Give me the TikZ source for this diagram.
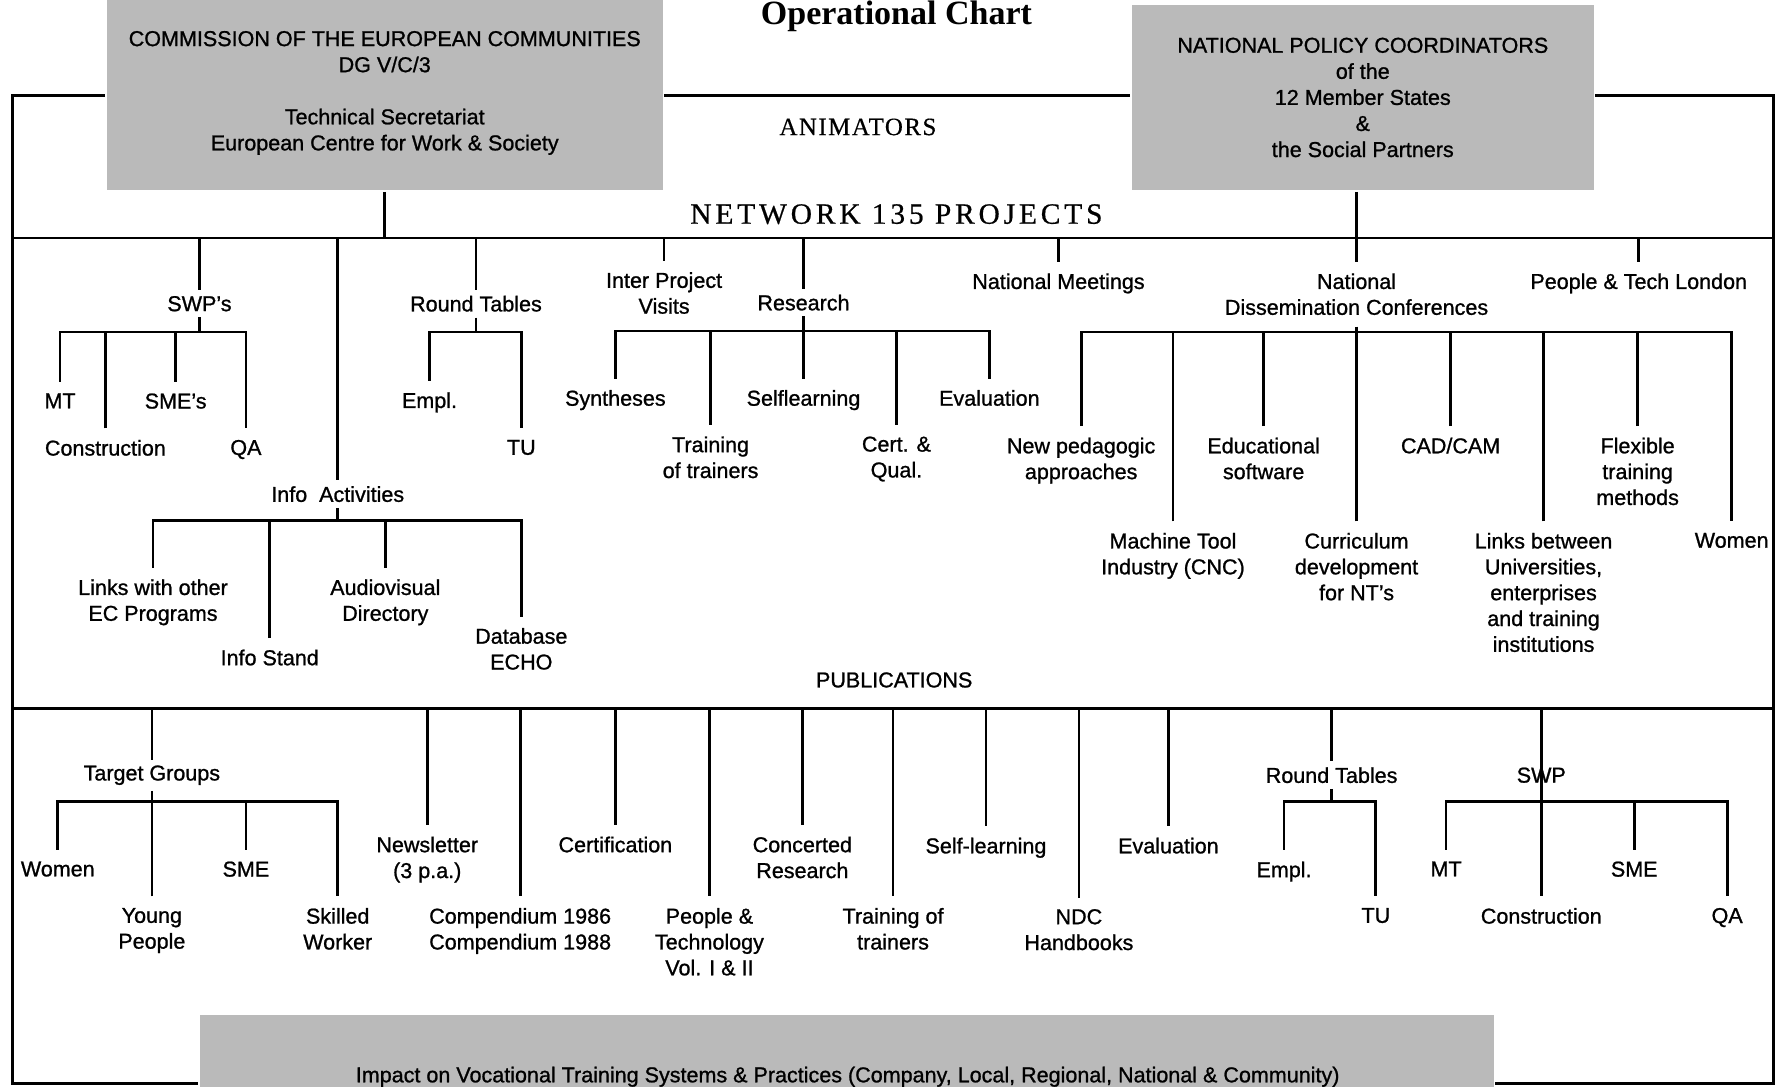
\documentclass[tikz,border=0pt]{standalone}
\usepackage{fontspec}
\setmainfont{Liberation Sans}[FakeBold=1]
\newfontfamily\chartserif{Liberation Serif}
\newfontfamily\netspaced{Liberation Serif}[LetterSpace=13, FakeBold=0.6]
\newfontfamily\animspaced{Liberation Serif}[LetterSpace=6, FakeBold=0.4]

\tikzset{
  lbl/.style={font=\fontsize{9.5}{11.4}\selectfont, align=center},
  leaf/.style={lbl, anchor=north, inner xsep=1pt, inner ysep=4.5pt},
  parent/.style={lbl, inner sep=2pt},
  greybox/.style={fill=black!27, inner sep=0pt, align=center, font=\fontsize{9.5}{11.5}\selectfont},
}

\begin{document}
\begin{tikzpicture}[x=0.5pt, y=-0.5pt, line width=1.2pt]
\useasboundingbox (0,0) rectangle (1568,959);
\clip (0,0) rectangle (1568,959);

% frame and the two rule lines
\coordinate (ftl) at (11,84);
\coordinate (ftr) at (1565,84);
\coordinate (fbl) at (11,956);
\coordinate (fbr) at (1565,956);
\coordinate (netL) at (11,210);
\coordinate (netR) at (1565,210);
\coordinate (pubL) at (11,625);
\coordinate (pubR) at (1565,625);

\node[anchor=base, font=\chartserif\bfseries\fontsize{15}{18}\selectfont] (title) at (791,22) {Operational Chart};

\node[greybox, minimum width=245.5pt, minimum height=86pt] (cec) at (339.5,82) {COMMISSION OF THE EUROPEAN COMMUNITIES\\DG V/C/3\\[11.5pt]Technical Secretariat\\European Centre for Work \& Society};
\node[greybox, minimum width=204pt, minimum height=82pt] (npc) at (1202.5,86) {NATIONAL POLICY COORDINATORS\\of the\\12 Member States\\\&\\the Social Partners};
\node[greybox, anchor=north west, minimum width=571pt, minimum height=40pt] (imp) at (175,894) {};
\node[lbl, anchor=base] (imptxt) at (748,955) {Impact on Vocational Training Systems \& Practices (Company, Local, Regional, National \& Community)};

\node[font=\animspaced\fontsize{11}{13}\selectfont] (anim) at (757,112) {ANIMATORS};
\node[font=\netspaced\fontsize{13}{15}\selectfont] (net) at (791,189) {NETWORK 135 PROJECTS};
\node[lbl] (pub) at (789,600) {PUBLICATIONS};

\draw (cec.west |- ftl) -- (ftl) -- (fbl) -- (imp.west |- fbl);
\draw (cec.east |- ftl) -- (npc.west |- ftl);
\draw (npc.east |- ftl) -- (ftr) -- (fbr) -- (imp.east |- fbl);
\draw (netL) -- (netR);
\draw (pubL) -- (pubR);
\draw (cec) -- (cec |- netL);

% network: SWP's
\node[parent] (swp) at (176,268) {SWP's};
\coordinate (swpbar) at (176,293);
\node[leaf] (mt) at (53,337) {MT};
\node[leaf] (swcon) at (93,378) {Construction};
\node[leaf] (sme) at (155,337) {SME's};
\node[leaf] (qa) at (217,378) {QA};
\draw (swp |- netL) -- (swp);
\draw (swp) -- (swp |- swpbar);
\draw (mt) -- (mt |- swpbar) -- (qa |- swpbar) -- (qa);
\draw (swcon) -- (swcon |- swpbar);
\draw (sme) -- (sme |- swpbar);

% network: info activities
\node[parent] (ia) at (298,436) {Info~~Activities};
\coordinate (iabar) at (298,459);
\node[leaf] (links) at (135,501) {Links with other\\EC Programs};
\node[leaf] (stand) at (238,563) {Info Stand};
\node[leaf] (av) at (340,501) {Audiovisual\\Directory};
\node[leaf] (db) at (460,544) {Database\\ECHO};
\draw (ia |- netL) -- (ia);
\draw (ia) -- (ia |- iabar);
\draw (links) -- (links |- iabar) -- (db |- iabar) -- (db);
\draw (stand) -- (stand |- iabar);
\draw (av) -- (av |- iabar);

% network: round tables
\node[parent] (rt) at (420,268) {Round Tables};
\coordinate (rtbar) at (420,293);
\node[leaf] (empl) at (379,336) {Empl.};
\node[leaf] (tu) at (460,378) {TU};
\draw (rt |- netL) -- (rt);
\draw (rt) -- (rt |- rtbar);
\draw (empl) -- (empl |- rtbar) -- (tu |- rtbar) -- (tu);

\node[leaf] (ipv) at (586,230) {Inter Project\\Visits};
\draw (ipv |- netL) -- (ipv);

% network: research
\node[parent] (res) at (709,267) {Research};
\coordinate (resbar) at (709,292);
\node[leaf] (syn) at (543,334) {Syntheses};
\node[leaf] (tot) at (627,375) {Training\\of trainers};
\node[leaf] (slf) at (709,334) {Selflearning};
\node[leaf] (cq) at (791,375) {Cert. \&\\Qual.};
\node[leaf] (evr) at (873,334) {Evaluation};
\draw (res |- netL) -- (res);
\draw (res) -- (res |- resbar);
\draw (syn) -- (syn |- resbar) -- (evr |- resbar) -- (evr);
\draw (tot) -- (tot |- resbar);
\draw (slf) -- (slf |- resbar);
\draw (cq) -- (cq |- resbar);

\node[leaf] (nm) at (934,231) {National Meetings};
\draw (nm |- netL) -- (nm);

% network: dissemination conferences
\node[leaf] (ndc) at (1197,231) {National\\Dissemination Conferences};
\coordinate (ndcbar) at (1197,293);
\node[leaf] (newp) at (954,376) {New pedagogic\\approaches};
\node[leaf] (mtool) at (1035,460) {Machine Tool\\Industry (CNC)};
\node[leaf] (edu) at (1115,376) {Educational\\software};
\node[leaf] (curr) at (1197,460) {Curriculum\\development\\for NT's};
\node[leaf] (cad) at (1280,376) {CAD/CAM};
\node[leaf] (univ) at (1362,460) {Links between\\Universities,\\enterprises\\and training\\institutions};
\node[leaf] (flex) at (1445,376) {Flexible\\training\\methods};
\node[leaf] (wom) at (1528,460) {Women};
\draw (npc.south -| ndc) -- (ndc);
\draw (ndc) -- (ndc |- ndcbar);
\draw (newp) -- (newp |- ndcbar) -- (wom |- ndcbar) -- (wom);
\draw (mtool) -- (mtool |- ndcbar);
\draw (edu) -- (edu |- ndcbar);
\draw (curr) -- (curr |- ndcbar);
\draw (cad) -- (cad |- ndcbar);
\draw (univ) -- (univ |- ndcbar);
\draw (flex) -- (flex |- ndcbar);

\node[leaf] (ptl) at (1446,231) {People \& Tech London};
\draw (ptl |- netL) -- (ptl);

% publications: target groups
\node[parent] (tg) at (134,684) {Target Groups};
\coordinate (tgbar) at (134,707);
\node[leaf] (wtg) at (51,750) {Women};
\node[leaf] (young) at (134,791) {Young\\People};
\node[leaf] (smetg) at (217,750) {SME};
\node[leaf] (skill) at (298,791) {Skilled\\Worker};
\draw (tg |- pubL) -- (tg);
\draw (tg) -- (tg |- tgbar);
\draw (wtg) -- (wtg |- tgbar) -- (skill |- tgbar) -- (skill);
\draw (young) -- (young |- tgbar);
\draw (smetg) -- (smetg |- tgbar);

% publications: single titles
\node[leaf] (news) at (377,728) {Newsletter\\(3 p.a.)};
\node[leaf] (comp) at (459,791) {Compendium 1986\\Compendium 1988};
\node[leaf] (certf) at (543,728) {Certification};
\node[leaf] (pt) at (626,791) {People \&\\Technology\\Vol. I \& II};
\node[leaf] (cr) at (708,728) {Concerted\\Research};
\node[leaf] (tt) at (788,791) {Training of\\trainers};
\node[leaf] (sl) at (870,729) {Self-learning};
\node[leaf] (ndch) at (952,792) {NDC\\Handbooks};
\node[leaf] (evp) at (1031,729) {Evaluation};
\draw (news |- pubL) -- (news);
\draw (comp |- pubL) -- (comp);
\draw (certf |- pubL) -- (certf);
\draw (pt |- pubL) -- (pt);
\draw (cr |- pubL) -- (cr);
\draw (tt |- pubL) -- (tt);
\draw (sl |- pubL) -- (sl);
\draw (ndch |- pubL) -- (ndch);
\draw (evp |- pubL) -- (evp);

% publications: round tables
\node[parent] (rtp) at (1175,684) {Round Tables};
\coordinate (rtpbar) at (1175,707);
\node[leaf] (emplp) at (1133,750) {Empl.};
\node[leaf] (tup) at (1214,791) {TU};
\draw (rtp |- pubL) -- (rtp);
\draw (rtp) -- (rtp |- rtpbar);
\draw (emplp) -- (emplp |- rtpbar) -- (tup |- rtpbar) -- (tup);

% publications: SWP (line runs through its label)
\node[parent] (swpp) at (1360,684) {SWP};
\coordinate (swppbar) at (1360,707);
\node[leaf] (mtp) at (1276,750) {MT};
\node[leaf] (conp) at (1360,791) {Construction};
\node[leaf] (smep) at (1442,750) {SME};
\node[leaf] (qap) at (1524,791) {QA};
\draw (conp |- pubL) -- (conp);
\draw (mtp) -- (mtp |- swppbar) -- (qap |- swppbar) -- (qap);
\draw (smep) -- (smep |- swppbar);

\end{tikzpicture}
\end{document}
